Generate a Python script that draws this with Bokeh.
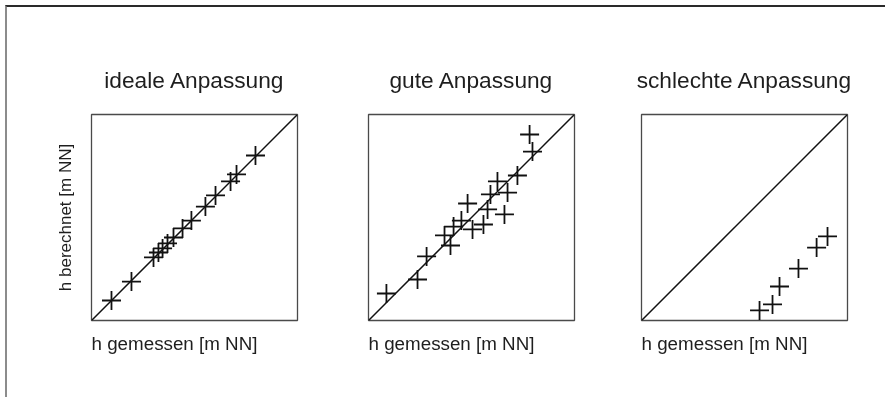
from bokeh.plotting import figure
from bokeh.layouts import row
from bokeh.models import Range1d, Title
from bokeh.embed import file_html
from bokeh.resources import INLINE

# ---- data (arbitrary units 0..10 on both axes) ----
titles = ["ideale Anpassung", "gute Anpassung", "schlechte Anpassung"]
x_label = "h gemessen [m NN]"
y_label = "h berechnet [m NN]"
axis_min, axis_max = 0.0, 10.0
diag = [axis_min, axis_max]

ideal_x = [0.97, 1.94, 3.01, 3.25, 3.45, 3.69, 3.98, 4.42, 4.85, 5.53, 6.02, 6.75, 7.04, 7.96]
ideal_y = [0.97, 1.89, 3.06, 3.30, 3.50, 3.74, 4.03, 4.47, 4.85, 5.53, 6.07, 6.75, 7.09, 8.01]

good_x = [0.87, 2.38, 2.82, 3.69, 3.98, 4.13, 4.51, 4.81, 5.05, 5.58, 5.78, 5.92, 6.26, 6.60, 6.75, 7.23, 7.96, 7.82]
good_y = [1.31, 1.99, 3.11, 4.13, 3.64, 4.56, 4.85, 5.68, 4.42, 4.66, 5.39, 6.12, 6.75, 5.15, 6.21, 7.04, 8.20, 9.03]

bad_x = [5.73, 6.36, 6.70, 7.62, 8.50, 9.03]
bad_y = [0.49, 0.78, 1.65, 2.52, 3.54, 4.08]

series = [(ideal_x, ideal_y), (good_x, good_y), (bad_x, bad_y)]

FONT = "Liberation Sans"
TXT = "#1e1e1e"

borders = [(84, 35), (36, 33), (34, 38)]

figs = []
for i, (title, (xs, ys)) in enumerate(zip(titles, series)):
    bl, br = borders[i]
    p = figure(frame_width=206, frame_height=206,
               min_border_left=bl, min_border_right=br,
               min_border_top=107, min_border_bottom=77,
               x_range=Range1d(axis_min, axis_max), y_range=Range1d(axis_min, axis_max),
               x_axis_location=None, y_axis_location=None,
               toolbar_location=None, output_backend="svg")
    p.grid.visible = False
    p.outline_line_color = "#4a4a4a"
    p.outline_line_width = 1.3
    p.background_fill_color = "white"
    p.border_fill_color = "white"

    t = Title(text=title, align="center", text_font=FONT, text_font_size="22.7px",
              text_font_style="normal", text_color=TXT, standoff=43)
    p.add_layout(t, "above")

    xl = Title(text=x_label, align="left", text_font=FONT, text_font_size="18.8px",
               text_font_style="normal", text_color=TXT, standoff=21)
    p.add_layout(xl, "below")

    if i == 0:
        yl = Title(text=y_label, align="center", text_font=FONT, text_font_size="17px",
                   text_font_style="normal", text_color=TXT, standoff=33)
        p.add_layout(yl, "left")

    p.line(diag, diag, line_color="#111111", line_width=1.5)
    p.scatter(xs, ys, marker="cross", size=19, line_color="#111111", line_width=1.8)
    figs.append(p)

layout = row(*figs, spacing=0,
             styles={"position": "fixed", "top": "5px", "left": "5px",
                     "border-top": "2px solid #2a2a2a", "border-left": "2px solid #8c8c8c"})

open("out.html", "w").write(file_html(layout, INLINE))
